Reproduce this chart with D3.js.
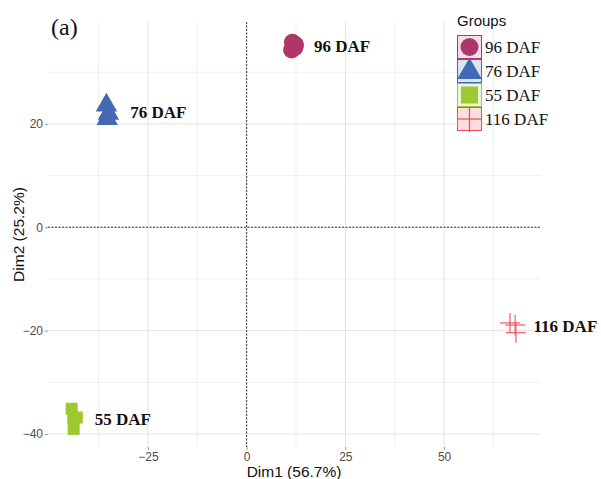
<!DOCTYPE html>
<html>
<head>
<meta charset="utf-8">
<script src="https://cdn.jsdelivr.net/npm/d3@7"></script>
<style>
  body { margin: 0; background: #fff; }
</style>
</head>
<body>
<div id="chart"></div>
<script>
// groups and their colours
const groups = ["96 DAF", "76 DAF", "55 DAF", "116 DAF"];
const groupColors = ["#AE3767", "#4469B3", "#9DC82F", "#EE4A55"];
const keyFills = ["#F6DCE6", "#DCE3F2", "#EEF6DC", "#FCDDE0"];

// individual coordinates
const dim1_96 = [11.6, 12.4, 11.4, 12.2];
const dim2_96 = [35.8, 35.3, 34.3, 34.7];
const dim1_76 = [-35.5, -35.3, -35.0];
const dim2_76 = [23.6, 21.0, 22.0];
const dim1_55 = [-44.3, -43.9, -43.0, -43.8];
const dim2_55 = [-35.1, -37.0, -36.8, -39.0];
const dim1_116 = [66.7, 68.0, 68.2];
const dim2_116 = [-18.5, -18.9, -20.4];

// label positions (group means)
const labelDim1 = [12, -35.3, -44.3, 67.6];
const labelDim2 = [35, 22.3, -37, -19.2];

const xTicks = [-25, 0, 25, 50];
const yTicks = [-40, -20, 0, 20];
const xMinor = [-37.5, -12.5, 12.5, 37.5, 62.5];
const yMinor = [-30, -10, 10, 30];

const width = 601, height = 479;
const pLeft = 48, pRight = 540, pTop = 22, pBottom = 447;

const x = d3.scaleLinear().domain([-50.3, 74.3]).range([pLeft, pRight]);
const y = d3.scaleLinear().domain([39.7, -42.5]).range([pTop, pBottom]);

const svg = d3.select("#chart").append("svg")
  .attr("width", width).attr("height", height)
  .style("font-family", "'Liberation Sans', Arial, sans-serif");

// grid
const grid = svg.append("g").attr("stroke", "#ebebeb").attr("stroke-width", 0.7);
grid.selectAll("line.v").data(xMinor).join("line")
  .attr("class", "v")
  .attr("x1", d => x(d)).attr("x2", d => x(d)).attr("y1", pTop).attr("y2", pBottom);
grid.selectAll("line.h").data(yMinor).join("line")
  .attr("class", "h")
  .attr("y1", d => y(d)).attr("y2", d => y(d)).attr("x1", pLeft).attr("x2", pRight);
const gridMaj = svg.append("g").attr("stroke", "#e3e3e3").attr("stroke-width", 1);
gridMaj.selectAll("line.v").data(xTicks).join("line")
  .attr("class", "v")
  .attr("x1", d => x(d)).attr("x2", d => x(d)).attr("y1", pTop).attr("y2", pBottom);
gridMaj.selectAll("line.h").data(yTicks).join("line")
  .attr("class", "h")
  .attr("y1", d => y(d)).attr("y2", d => y(d)).attr("x1", pLeft).attr("x2", pRight);

// zero reference lines
svg.append("line")
  .attr("x1", x(0)).attr("x2", x(0)).attr("y1", pTop).attr("y2", pBottom)
  .attr("stroke", "#333").attr("stroke-width", 1).attr("stroke-dasharray", "2,1.5");
svg.append("line")
  .attr("x1", pLeft).attr("x2", pRight).attr("y1", y(0)).attr("y2", y(0))
  .attr("stroke", "#333").attr("stroke-width", 1).attr("stroke-dasharray", "2,1.5");

// axes
const xAxis = svg.append("g")
  .attr("transform", `translate(0,${pBottom})`)
  .call(d3.axisBottom(x).tickValues(xTicks).tickSize(3).tickPadding(2));
const yAxis = svg.append("g")
  .attr("transform", `translate(${pLeft},0)`)
  .call(d3.axisLeft(y).tickValues(yTicks).tickSize(3).tickPadding(2));
[xAxis, yAxis].forEach(a => {
  a.select(".domain").remove();
  a.selectAll(".tick line").attr("stroke", "#999");
  a.selectAll(".tick text").attr("fill", "#4d4d4d")
    .style("font-size", "12px").style("font-family", "'Liberation Sans', Arial, sans-serif");
});

// axis titles
svg.append("text")
  .attr("x", (pLeft + pRight) / 2).attr("y", 477)
  .attr("text-anchor", "middle").style("font-size", "15.5px").attr("fill", "#111")
  .text("Dim1 (56.7%)");
svg.append("text")
  .attr("transform", `translate(24,${(pTop + pBottom) / 2}) rotate(-90)`)
  .attr("text-anchor", "middle").style("font-size", "15.5px").attr("fill", "#111")
  .text("Dim2 (25.2%)");

// points
const pts = svg.append("g");

pts.selectAll("circle").data(d3.zip(dim1_96, dim2_96)).join("circle")
  .attr("cx", d => x(d[0])).attr("cy", d => y(d[1])).attr("r", 8.5)
  .attr("fill", groupColors[0]);

const tri = d3.symbol().type(d3.symbolTriangle).size(200);
pts.selectAll("path.tri").data(d3.zip(dim1_76, dim2_76)).join("path")
  .attr("class", "tri")
  .attr("d", tri)
  .attr("transform", d => `translate(${x(d[0])},${y(d[1])})`)
  .attr("fill", groupColors[1]);

pts.selectAll("rect.sq").data(d3.zip(dim1_55, dim2_55)).join("rect")
  .attr("class", "sq")
  .attr("x", d => x(d[0]) - 6).attr("y", d => y(d[1]) - 6)
  .attr("width", 12).attr("height", 12)
  .attr("fill", groupColors[2]);

const plus = pts.selectAll("g.plus").data(d3.zip(dim1_116, dim2_116)).join("g")
  .attr("class", "plus")
  .attr("transform", d => `translate(${x(d[0])},${y(d[1])})`)
  .attr("stroke", groupColors[3]).attr("stroke-width", 1.1);
plus.append("line").attr("x1", -10).attr("x2", 10);
plus.append("line").attr("y1", -10).attr("y2", 10);

// labels
const labelDx = [20, 23, 23, 20];
svg.append("g").selectAll("text").data(groups).join("text")
  .attr("x", (d, i) => x(labelDim1[i]) + labelDx[i])
  .attr("y", (d, i) => y(labelDim2[i]))
  .attr("dy", "0.35em")
  .style("font-family", "'Liberation Serif', 'Times New Roman', serif")
  .style("font-weight", "bold").style("font-size", "17px")
  .attr("fill", "#111")
  .text(d => d);

// panel tag
svg.append("text")
  .attr("x", 51).attr("y", 35)
  .style("font-family", "'Liberation Serif', 'Times New Roman', serif")
  .style("font-size", "24px").attr("fill", "#111")
  .text("(a)");

// legend
const lg = svg.append("g").attr("transform", "translate(457,20)");
lg.append("text").attr("x", 0).attr("y", 6).style("font-size", "15px").attr("fill", "#111").text("Groups");
const keySize = 24;
const keys = lg.selectAll("g.key").data(groups).join("g")
  .attr("class", "key")
  .attr("transform", (d, i) => `translate(0,${15 + i * keySize})`);
keys.append("rect")
  .attr("x", 0.5).attr("y", 0.5).attr("width", keySize).attr("height", keySize - 1)
  .attr("fill", (d, i) => keyFills[i])
  .attr("stroke", (d, i) => groupColors[i]).attr("stroke-width", 1);
keys.filter((d, i) => i === 0).append("circle")
  .attr("cx", 12.5).attr("cy", 12).attr("r", 9).attr("fill", groupColors[0]);
keys.filter((d, i) => i === 1).append("path")
  .attr("d", d3.symbol().type(d3.symbolTriangle).size(260))
  .attr("transform", "translate(12.5,13)").attr("fill", groupColors[1]);
keys.filter((d, i) => i === 2).append("rect")
  .attr("x", 4).attr("y", 3.5).attr("width", 17).attr("height", 17).attr("fill", groupColors[2]);
const kp = keys.filter((d, i) => i === 3).append("g")
  .attr("stroke", groupColors[3]).attr("stroke-width", 1.2);
kp.append("line").attr("x1", 0).attr("x2", 25).attr("y1", 12).attr("y2", 12);
kp.append("line").attr("x1", 12.5).attr("x2", 12.5).attr("y1", 0).attr("y2", 25);
keys.append("text")
  .attr("x", 28).attr("y", 12).attr("dy", "0.35em")
  .style("font-family", "'Liberation Serif', 'Times New Roman', serif")
  .style("font-size", "17px").attr("fill", "#111")
  .text(d => d);
</script>
</body>
</html>
